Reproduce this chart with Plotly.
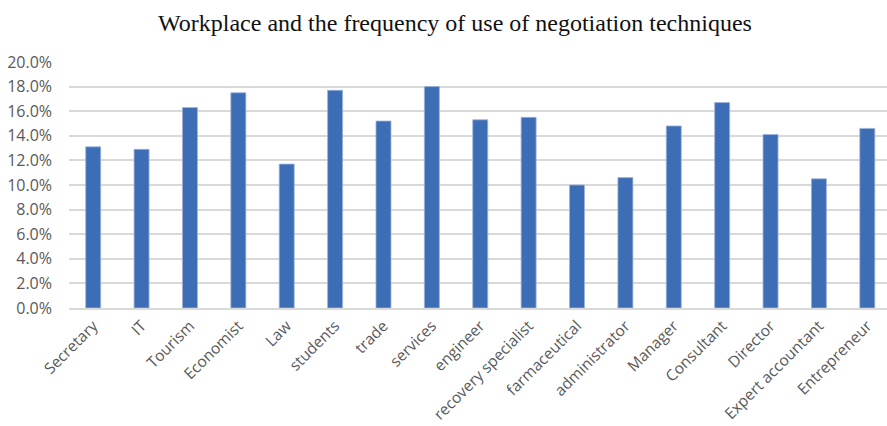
import plotly.graph_objects as go

# Share of respondents using negotiation techniques, by workplace (%)
workplaces = [
    "Secretary", "IT", "Tourism", "Economist", "Law", "students", "trade",
    "services", "engineer", "recovery specialist", "farmaceutical",
    "administrator", "Manager", "Consultant", "Director",
    "Expert accountant", "Entrepreneur",
]
frequency_pct = [
    13.1, 12.9, 16.3, 17.5, 11.7, 17.7, 15.2,
    18.0, 15.3, 15.5, 10.0,
    10.6, 14.8, 16.7, 14.1,
    10.5, 14.6,
]
y_ticks = [0, 2, 4, 6, 8, 10, 12, 14, 16, 18, 20]
y_tick_labels = [f"{v:.1f}%" for v in y_ticks]

BAR_BLUE = "#3D6EB5"
GRID = "#D9D9D9"
TICK_GRAY = "#595959"
TICK_FONT = dict(family="Open Sans, Liberation Sans, sans-serif", size=16, color=TICK_GRAY)
X_TICK_FONT = dict(family="Open Sans, Liberation Sans, sans-serif", size=15.5, color=TICK_GRAY)

fig = go.Figure(
    go.Bar(
        x=workplaces,
        y=frequency_pct,
        width=0.31,
        marker=dict(color=BAR_BLUE, line=dict(color="#9DB3DB", width=0.8)),
        hovertemplate="%{x}: %{y:.1f}%<extra></extra>",
    )
)

fig.update_layout(
    width=887,
    height=426,
    margin=dict(l=69, r=0, t=62, b=118),
    paper_bgcolor="white",
    plot_bgcolor="white",
    showlegend=False,
    title=dict(
        text="Workplace and the frequency of use of negotiation techniques",
        font=dict(family="Liberation Serif, Times New Roman, serif", size=24, color="#111111"),
        x=455 / 887,
        xanchor="center",
        xref="container",
        y=1 - 23 / 426,
        yref="container",
        yanchor="middle",
    ),
)

fig.update_xaxes(
    type="category",
    range=[-0.5, 16.407],
    tickangle=-45,
    tickfont=X_TICK_FONT,
    showline=True,
    linecolor=GRID,
    linewidth=1.5,
    showgrid=False,
    ticks="",
    ticklabelstandoff=1,
    automargin=False,
)

fig.update_yaxes(
    range=[0, 20],
    tickmode="array",
    tickvals=y_ticks,
    ticktext=y_tick_labels,
    tickfont=TICK_FONT,
    showgrid=True,
    gridcolor=GRID,
    gridwidth=1.5,
    zeroline=False,
    showline=False,
    ticks="",
    ticklabelstandoff=16,
    automargin=False,
)

fig.write_html("out.html")
